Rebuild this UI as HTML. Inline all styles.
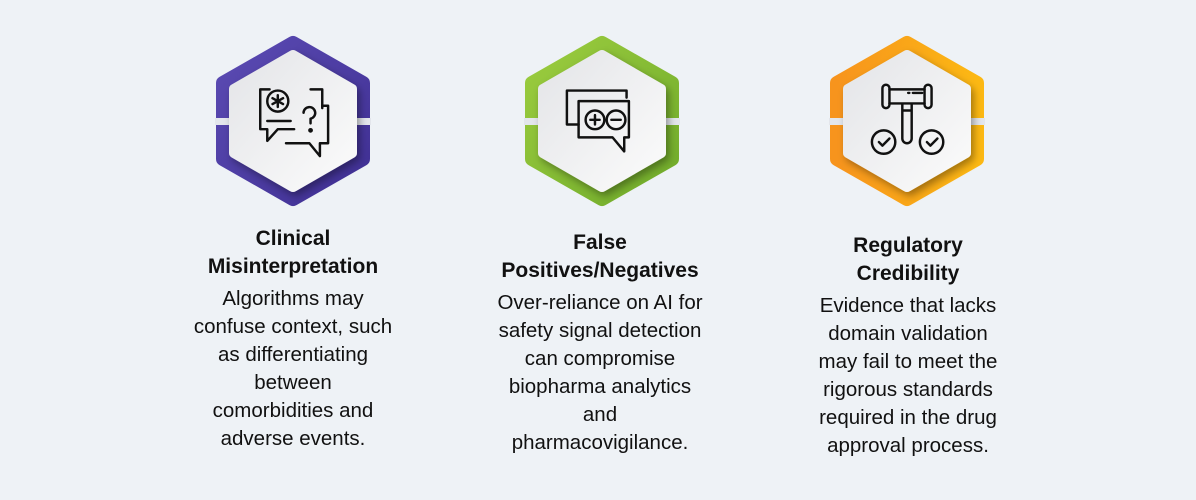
<!DOCTYPE html>
<html><head><meta charset="utf-8"><style>
body{margin:0;width:1196px;height:500px;background:#eef2f6;font-family:"Liberation Sans",Arial,sans-serif;position:relative;overflow:hidden}
.col{position:absolute;text-align:center;color:#111}
.t{font-weight:bold;font-size:21px;line-height:28px}
.b{font-size:20.5px;line-height:28px}
svg{position:absolute;left:0;top:0}
</style></head><body>
<svg width="1196" height="500">
<defs>
<linearGradient id="gp" x1="0" y1="0" x2="1" y2="1"><stop offset="0" stop-color="#5b4bb3"/><stop offset="1" stop-color="#3f2f93"/></linearGradient>
<linearGradient id="gg" x1="0" y1="0" x2="1" y2="1"><stop offset="0" stop-color="#9ccd3f"/><stop offset="1" stop-color="#6faa2a"/></linearGradient>
<linearGradient id="go" x1="0" y1="0" x2="1" y2="0"><stop offset="0" stop-color="#f7941d"/><stop offset="1" stop-color="#fcb813"/></linearGradient>
<linearGradient id="gw" x1="0" y1="0" x2="1" y2="1"><stop offset="0" stop-color="#e4e5e8"/><stop offset="1" stop-color="#fbfbfb"/></linearGradient>
<filter id="sh" x="-30%" y="-30%" width="160%" height="160%"><feDropShadow dx="3" dy="4" stdDeviation="4" flood-color="#000" flood-opacity="0.35"/></filter>
</defs>
<g transform="translate(293,121)">
<polygon points="0,-78 70,-38 70,38 0,78 -70,38 -70,-38" fill="url(#gp)" stroke="url(#gp)" stroke-width="14" stroke-linejoin="round"/>
<rect x="-78" y="-3" width="20" height="7" fill="#e3e6ec"/><rect x="58" y="-3" width="20" height="7" fill="#e3e6ec"/>
<polygon points="0,-66 59,-32 59,32 0,66 -59,32 -59,-32" fill="url(#gw)" stroke="url(#gw)" stroke-width="10" stroke-linejoin="round" filter="url(#sh)"/>
<g transform="scale(1.17)" fill="none" stroke="#111" stroke-width="2.1" stroke-linecap="round" stroke-linejoin="round">
<path d="M-20,-27 h-8 v34 h6 v10 l9,-10 h14 M15,-27 h10 v16"/>
<circle cx="-13" cy="-17" r="9"/><path d="M-13,-22 v10 M-17.5,-19.5 l9,5 M-17.5,-14.5 l9,-5"/>
<path d="M-22,0 h20"/>
<path d="M25,-13 h5 v32 h-7 v11 l-9,-11 h-20"/>
<path d="M9,-7 a5,5 0 1 1 6,5 v4"/><circle cx="15" cy="8" r="1" fill="#111"/>
</g></g>
<g transform="translate(602,121)">
<polygon points="0,-78 70,-38 70,38 0,78 -70,38 -70,-38" fill="url(#gg)" stroke="url(#gg)" stroke-width="14" stroke-linejoin="round"/>
<rect x="-78" y="-3" width="20" height="7" fill="#e3e6ec"/><rect x="58" y="-3" width="20" height="7" fill="#e3e6ec"/>
<polygon points="0,-66 59,-32 59,32 0,66 -59,32 -59,-32" fill="url(#gw)" stroke="url(#gw)" stroke-width="10" stroke-linejoin="round" filter="url(#sh)"/>
<g transform="scale(1.17)" fill="none" stroke="#111" stroke-width="2.1" stroke-linecap="round" stroke-linejoin="round">
<path d="M-20,3 h-10 v-29 h51 v6"/>
<path d="M-20,-17 h43 v31 h-4 v12 l-10,-12 h-29 z"/>
<circle cx="-6" cy="-1" r="8"/><path d="M-10,-1 h8 M-6,-5 v8"/>
<circle cx="12" cy="-1" r="8"/><path d="M8,-1 h8"/>
</g></g>
<g transform="translate(907,121)">
<polygon points="0,-78 70,-38 70,38 0,78 -70,38 -70,-38" fill="url(#go)" stroke="url(#go)" stroke-width="14" stroke-linejoin="round"/>
<rect x="-78" y="-3" width="20" height="7" fill="#e3e6ec"/><rect x="58" y="-3" width="20" height="7" fill="#e3e6ec"/>
<polygon points="0,-66 59,-32 59,32 0,66 -59,32 -59,-32" fill="url(#gw)" stroke="url(#gw)" stroke-width="10" stroke-linejoin="round" filter="url(#sh)"/>
<g transform="scale(1.17)" fill="none" stroke="#111" stroke-width="2.1" stroke-linecap="round" stroke-linejoin="round">
<rect x="-21" y="-31" width="6" height="20" rx="3"/><rect x="15" y="-31" width="6" height="20" rx="3"/>
<path d="M-15,-27 h30 M-15,-15 h30 M-4,-15 v6 h8 v-6 M-4,-9 v-2 M-4,-9 v24 a4,4 0 0 0 8,0 v-24 M5,-24 h8 M1,-24 h1"/>
<circle cx="-20" cy="18" r="10"/><path d="M-24,18 l3,3 l6,-6"/>
<circle cx="21" cy="18" r="10"/><path d="M17,18 l3,3 l6,-6"/>
</g></g>
</svg>
<div class="col" style="left:173px;width:240px;top:225px"><div class="t">Clinical<br>Misinterpretation</div><div class="b" style="margin-top:4px">Algorithms may<br>confuse context, such<br>as differentiating<br>between<br>comorbidities and<br>adverse events.</div></div>
<div class="col" style="left:480px;width:240px;top:229px"><div class="t">False<br>Positives/Negatives</div><div class="b" style="margin-top:4px">Over-reliance on AI for<br>safety signal detection<br>can compromise<br>biopharma analytics<br>and<br>pharmacovigilance.</div></div>
<div class="col" style="left:788px;width:240px;top:232px"><div class="t">Regulatory<br>Credibility</div><div class="b" style="margin-top:4px">Evidence that lacks<br>domain validation<br>may fail to meet the<br>rigorous standards<br>required in the drug<br>approval process.</div></div>
</body></html>
